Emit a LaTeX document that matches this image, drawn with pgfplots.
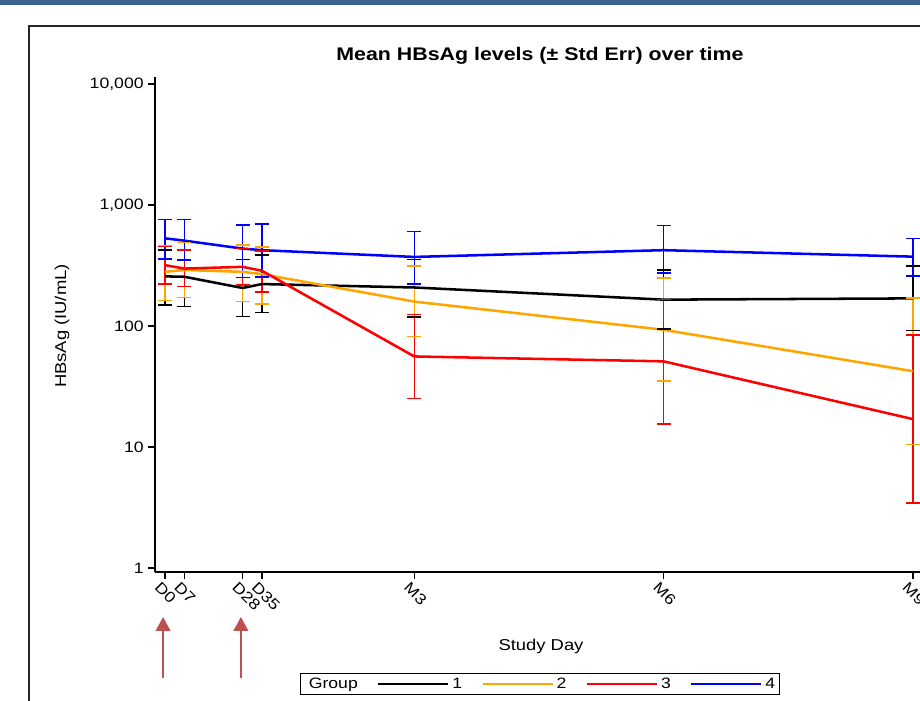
\documentclass[border=0pt]{standalone}
\usepackage{pgfplots}
\pgfplotsset{compat=1.18}
\usepackage{fontspec}
\setmainfont{Liberation Sans}[FakeStretch=1.17]
\usetikzlibrary{arrows.meta}
\definecolor{gorange}{RGB}{255,165,0}
\definecolor{bandblue}{RGB}{59,95,145}
\definecolor{arrowred}{RGB}{192,80,77}
\begin{document}
\begin{tikzpicture}
\fill[bandblue] (-120pt,425.5pt) rectangle (600pt,432pt);
\draw[line width=1pt, black!85] (-94.5pt,-120pt) -- (-94.5pt,409.7pt) -- (620pt,409.7pt);
\begin{axis}[
  at={(0pt,0pt)}, anchor=south west,
  scale only axis, width=577.5pt, height=371.5pt,
  ymode=log, ymin=0.9215, ymax=11428,
  xmin=-3.61, xmax=274.4,
  axis x line=bottom, axis y line=left,
  axis line style={-, line width=1.2pt},
  tick align=outside, major tick length=5pt,
  every tick/.style={black, line width=1.1pt},
  yminorticks=false, xminorticks=false,
  ytick={1,10,100,1000,10000},
  yticklabels={1,10,100,{1,000},{10,000}},
  xtick={0,7,28,35,90,180,270},
  xticklabels={D0,D7,D28,D35,M3,M6,M9},
  ticklabel style={font=\fontsize{11.3pt}{13pt}\selectfont},
  xticklabel style={xshift=-2.75pt, yshift=3.2pt, rotate=-45, anchor=north west},
  /pgf/number format/assume math mode=true,
  clip=false,
  unbounded coords=jump,
  title={Mean HBsAg levels (± Std Err) over time},
  title style={font=\bfseries\fontsize{13.7pt}{16pt}\selectfont, at={(axis description cs:0.5,1.0262)}, anchor=center},
  xlabel={Study Day},
  xlabel style={font=\fontsize{11.8pt}{14pt}\selectfont, at={(axis description cs:0.5013,-0.1488)}, anchor=center},
  ylabel={HBsAg (IU/mL)},
  ylabel style={font=\fontsize{11.8pt}{14pt}\selectfont, at={(axis description cs:-0.1208,0.497)}, anchor=center},
  legend style={at={(axis description cs:0.5,-0.2258)}, anchor=center, legend columns=5, draw=black, line width=0.9pt, font=\fontsize{11.3pt}{13pt}\selectfont, inner sep=1pt, /tikz/every even column/.append style={column sep=12.5pt}},
  legend image code/.code={\draw[#1] (0pt,0pt) -- (52.5pt,0pt);},
]
% error bars (low, high)
\addplot[black, line width=1.15pt, mark=-, mark size=5.25pt, mark options={solid, line width=1.15pt}, forget plot] coordinates {
(0,149) (0,425) (0,nan)
(7,145) (7,421) (7,nan)
(28,120) (28,354) (28,nan)
(35,129) (35,385) (35,nan)
(90,119) (90,354) (90,nan)
(180,94) (180,291) (180,nan)
(270,92) (270,312) (270,nan)
};
\addplot[gorange, line width=1.15pt, mark=-, mark size=5.25pt, mark options={solid, line width=1.15pt}, forget plot] coordinates {
(0,163) (0,456) (0,nan)
(7,172) (7,488) (7,nan)
(28,159) (28,467) (28,nan)
(35,152) (35,450) (35,nan)
(90,82) (90,312) (90,nan)
(180,35) (180,250) (180,nan)
(270,10.5) (270,171) (270,nan)
};
\addplot[red, line width=1.15pt, mark=-, mark size=5.25pt, mark options={solid, line width=1.15pt}, forget plot] coordinates {
(0,222) (0,452) (0,nan)
(7,211) (7,425) (7,nan)
(28,219) (28,436) (28,nan)
(35,190) (35,417) (35,nan)
(90,25.2) (90,124) (90,nan)
(180,15.5) (180,166) (180,nan)
(270,3.44) (270,84) (270,nan)
};
\addplot[blue, line width=1.15pt, mark=-, mark size=5.25pt, mark options={solid, line width=1.15pt}, forget plot] coordinates {
(0,356) (0,759) (0,nan)
(7,352) (7,759) (7,nan)
(28,252) (28,682) (28,nan)
(35,255) (35,699) (35,nan)
(90,223) (90,601) (90,nan)
(180,274) (180,678) (180,nan)
(270,258) (270,530) (270,nan)
};
% means
\addplot[black, line width=1.9pt, mark=none, forget plot] coordinates {
(0,257) (7,255) (28,206) (35,222) (90,208) (180,165) (270,169)};
\addplot[gorange, line width=1.9pt, mark=none, forget plot] coordinates {
(0,280) (7,290) (28,280) (35,268) (90,159) (180,93) (270,42.3)};
\addplot[red, line width=1.9pt, mark=none, forget plot] coordinates {
(0,318) (7,298) (28,308) (35,286) (90,56) (180,51) (270,17)};
\addplot[blue, line width=1.9pt, mark=none, forget plot] coordinates {
(0,530) (7,507) (28,436) (35,423) (90,372) (180,423) (270,374)};
% legend
\addlegendimage{empty legend}\addlegendentry{\hspace{3pt}Group\hspace{14pt}}
\addlegendimage{black, line width=1.9pt}\addlegendentry{1}
\addlegendimage{gorange, line width=1.9pt}\addlegendentry{2}
\addlegendimage{red, line width=1.9pt}\addlegendentry{3}
\addlegendimage{blue, line width=1.9pt}\addlegendentry{4}
% annotation arrows
\draw[arrowred, line width=1.5pt, -{Triangle[width=11pt,length=10.5pt]}] (axis cs:-0.7,1) ++(0pt,-82.5pt) -- ++(0pt,45.75pt);
\draw[arrowred, line width=1.5pt, -{Triangle[width=11pt,length=10.5pt]}] (axis cs:27.4,1) ++(0pt,-82.5pt) -- ++(0pt,45.75pt);
\end{axis}
\pgfresetboundingbox
\path[use as bounding box] (-116.25pt,-95.8pt) rectangle (573.75pt,429.2pt);
\end{tikzpicture}
\end{document}
